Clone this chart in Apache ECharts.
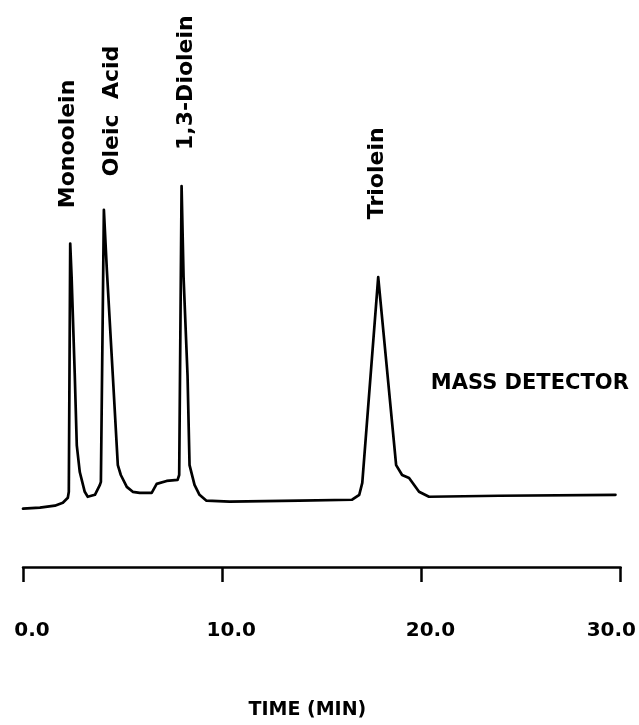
<!DOCTYPE html>
<html>
<head>
<meta charset="utf-8">
<script src="https://cdn.jsdelivr.net/npm/echarts@6/dist/echarts.min.js"></script>
<style>
html,body{margin:0;padding:0;background:#fff;}
#chart{width:639px;height:725px;}
</style>
</head>
<body>
<div id="chart"></div>
<script>
// Retention time (min) and detector response (arbitrary units)
const timeMin = [0, 0.85, 1.60, 2.00, 2.25, 2.30, 2.37, 2.44, 2.60, 2.70, 2.85, 3.10, 3.25, 3.61, 3.86, 3.91, 4.06, 4.21, 4.51, 4.76, 4.91, 5.21, 5.51, 5.86, 6.46, 6.71, 7.21, 7.76, 7.84, 7.96, 8.06, 8.26, 8.36, 8.61, 8.86, 9.21, 10.37, 13.87, 16.52, 16.88, 17.03, 17.83, 18.73, 19.03, 19.38, 19.88, 20.38, 23.89, 29.74];
const signal  = [14.75, 15, 15.5, 16.25, 17.5, 19, 81.75, 73.25, 48.25, 30.75, 24, 19, 17.75, 18.25, 20.75, 21.5, 90.25, 75, 48.25, 25.75, 23.25, 20.25, 19, 18.75, 18.75, 21, 21.75, 22, 23.25, 96.25, 73.25, 48.25, 25.75, 20.75, 18.25, 16.75, 16.5, 16.75, 17, 18.25, 21.25, 73.25, 25.75, 23.25, 22.5, 19, 17.75, 18, 18.25];

// Peak annotations (placed in data coordinates)
const peakNames  = ['Monoolein', 'Oleic  Acid', '1,3-Diolein', 'Triolein'];
const peakLabelT = [2.28, 4.48, 8.19, 17.80];
const peakLabelV = [106.9, 115.25, 122.4, 99.5];
const detectorLabel = 'MASS DETECTOR';
const detectorT = 25.44;
const detectorV = 46.25;

const tickLabels = ['0.0', '10.0', '20.0', '30.0'];
const xTitle = 'TIME (MIN)';

const FONT = '"DejaVu Sans", sans-serif';

const lineData = timeMin.map((t, i) => [t, signal[i]]);
const labelData = peakNames.map((n, i) => ({
  value: [peakLabelT[i], peakLabelV[i]], name: n,
  label: { rotate: 90 }
}));
labelData.push({ value: [detectorT, detectorV], name: detectorLabel, label: { rotate: 0, fontSize: 21 } });

const chart = echarts.init(document.getElementById('chart'), null, { renderer: 'canvas' });
chart.setOption({
  animation: false,
  backgroundColor: '#ffffff',
  grid: { left: 23, right: 17, top: 13, bottom: 152, containLabel: false },
  xAxis: {
    type: 'value', min: 0, max: 30, interval: 10,
    axisLine: { show: true, onZero: false, lineStyle: { color: '#000', width: 2.5 } },
    axisTick: { show: true, length: 15, inside: false, lineStyle: { color: '#000', width: 2.5 } },
    splitLine: { show: false },
    axisLabel: {
      margin: 54, color: '#000', fontFamily: FONT, fontWeight: 'bold', fontSize: 20,
      padding: [0, 0, 0, 18],
      alignMaxLabel: 'center',
      formatter: (v) => {
        const s = tickLabels[Math.round(v / 10)];
        return v >= 30 ? '{r|' + s + '}' : s;
      },
      rich: {
        r: { width: 86, align: 'left', fontFamily: FONT, fontWeight: 'bold', fontSize: 20, color: '#000', padding: [0, 0, 10, 0] }
      }
    },
    name: xTitle, nameLocation: 'middle', nameGap: 134,
    nameTextStyle: { color: '#000', fontFamily: FONT, fontWeight: 'bold', fontSize: 19, padding: [0, 29, 0, 0] }
  },
  yAxis: {
    type: 'value', min: 0, max: 140, show: false,
    splitLine: { show: false }
  },
  series: [
    {
      type: 'line', data: lineData, showSymbol: false, symbol: 'none', smooth: false,
      lineStyle: { color: '#000', width: 2.7, join: 'round', cap: 'round' },
      silent: true, z: 2
    },
    {
      type: 'scatter', data: labelData, symbolSize: 1, clip: false,
      itemStyle: { color: 'rgba(0,0,0,0)', opacity: 1 },
      label: {
        show: true, position: 'inside', formatter: '{b}',
        color: '#000', fontFamily: FONT, fontWeight: 'bold', fontSize: 22,
        align: 'center', verticalAlign: 'middle'
      },
      silent: true, z: 3
    }
  ]
});
</script>
</body>
</html>
